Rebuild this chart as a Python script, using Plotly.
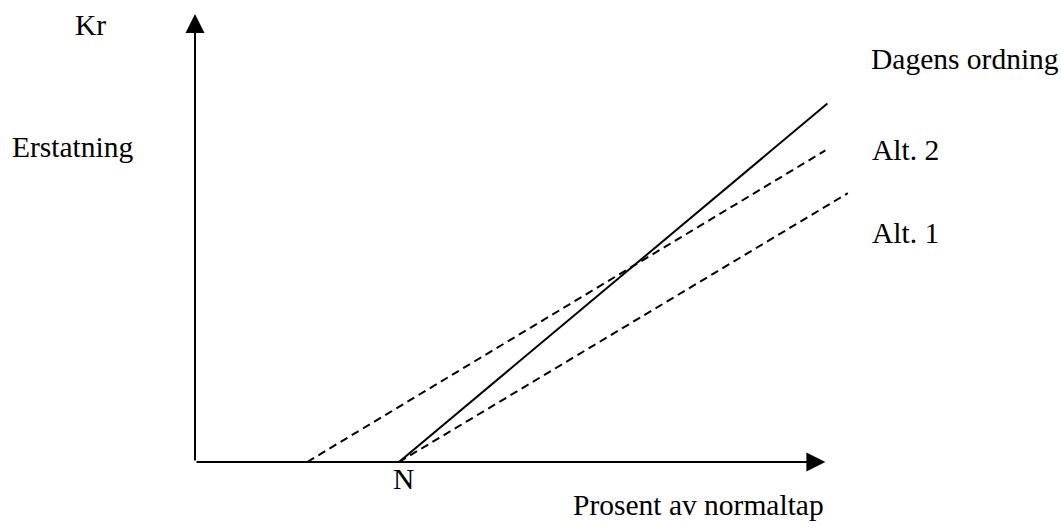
import plotly.graph_objects as go

# Data (x = prosent av normaltap, y = kr), N = 100
N = 100
dagens_x = [100, 310]
dagens_y = [0, 176]
alt2_x = [55, 309]
alt2_y = [0, 153]
alt1_x = [100, 320]
alt1_y = [0, 132]
x_axis_end = 309
y_axis_end = 220

FONT = "Liberation Serif, Times New Roman, serif"
FS = 29.5

fig = go.Figure()
fig.add_trace(go.Scatter(x=dagens_x, y=dagens_y, mode="lines",
                         line=dict(color="black", width=2), hoverinfo="skip"))
fig.add_trace(go.Scatter(x=alt2_x, y=alt2_y, mode="lines",
                         line=dict(color="black", width=2, dash="8px,5px"), hoverinfo="skip"))
fig.add_trace(go.Scatter(x=alt1_x, y=alt1_y, mode="lines",
                         line=dict(color="black", width=2, dash="8px,5px"), hoverinfo="skip"))

# axes with arrows
fig.add_annotation(x=x_axis_end, y=0, ax=0, ay=0, xref="x", yref="y", axref="x", ayref="y",
                   showarrow=True, arrowhead=2, arrowsize=1.9, arrowwidth=2, arrowcolor="black", text="")
fig.add_annotation(x=0, y=y_axis_end, ax=0, ay=0, xref="x", yref="y", axref="x", ayref="y",
                   showarrow=True, arrowhead=2, arrowsize=1.9, arrowwidth=2, arrowcolor="black", text="")

W, H = 1061, 529
ml, mr, mt, mb = 195, 186, 14, 67


def label(text, xp, yp, xanchor="left"):
    fx = (xp - ml) / (W - ml - mr)
    fy = (H - mb - yp) / (H - mt - mb)
    fig.add_annotation(x=fx, y=fy, xref="paper", yref="paper", text=text, showarrow=False,
                       xanchor=xanchor, yanchor="middle",
                       font=dict(family=FONT, size=FS, color="black"))


for t, xp, yp, anc in [("Kr", 73, 25, "left"), ("Erstatning", 10, 147, "left"),
                       ("Dagens ordning", 869, 59, "left"), ("Alt. 2", 870, 150, "left"),
                       ("Alt. 1", 870, 233, "left"), ("N", 403, 479, "center"),
                       ("Prosent av normaltap", 571, 505, "left")]:
    label(t, xp, yp, anc)

fig.update_layout(
    width=W, height=H,
    margin=dict(l=ml, r=mr, t=mt, b=mb),
    paper_bgcolor="white", plot_bgcolor="white",
    showlegend=False,
    xaxis=dict(range=[0, 680 / 2.04], visible=False, fixedrange=True),
    yaxis=dict(range=[0, 220], visible=False, fixedrange=True),
)
fig.write_html("out.html",
               post_script="document.body.style.margin='0';document.body.style.overflow='hidden';",
               config={"displayModeBar": False})
